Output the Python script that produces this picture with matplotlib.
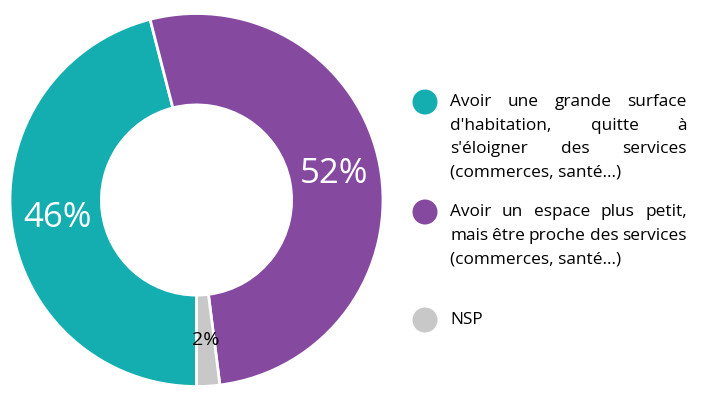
import matplotlib
matplotlib.use("Agg")
import matplotlib.pyplot as plt
from matplotlib.patches import Circle

# Data
labels = ["Avoir une grande surface d'habitation, quitte à s'éloigner des services (commerces, santé...)",
          "Avoir un espace plus petit, mais être proche des services (commerces, santé...)",
          "NSP"]
values = [46, 52, 2]
colors = ["#14adb0", "#8549a0", "#c8c8c8"]
pct_colors = ["white", "white", "black"]
pct_sizes = [25, 25, 14]

# legend text, already broken into lines as in the original
legend_lines = [
    ["Avoir une grande surface", "d'habitation, quitte à", "s'éloigner des services", "(commerces, santé...)"],
    ["Avoir un espace plus petit,", "mais être proche des services", "(commerces, santé...)"],
    ["NSP"],
]

W, H = 705, 399
plt.rcParams['font.family'] = ['Open Sans', 'DejaVu Sans']
fig = plt.figure(figsize=(W / 100, H / 100), dpi=100)

# donut
cx, cy, r = 196.5, 200, 186.5
ax = fig.add_axes([(cx - r) / W, (H - cy - r) / H, 2 * r / W, 2 * r / H])
wedges, _, autotexts = ax.pie(values, colors=colors, startangle=270, counterclock=False,
                              autopct=lambda p: f"{p:.0f}%", pctdistance=0.75,
                              wedgeprops=dict(width=0.49, edgecolor="white", linewidth=2))
for t, c, s in zip(autotexts, pct_colors, pct_sizes):
    t.set_color(c)
    t.set_fontsize(s)
ax.set_xlim(-1, 1)
ax.set_ylim(-1, 1)
ax.axis("off")

# legend: coloured dots + justified text
renderer = fig.canvas.get_renderer()
fs = 12.4
x0, x1 = 450, 687
marker_x = 425
blocks_y = [102, 212, 320]
line_h = 23.5

for block, col, y0 in zip(legend_lines, colors, blocks_y):
    fig.patches.append(Circle((marker_x / 100, (H - y0) / 100), 0.125, transform=fig.dpi_scale_trans,
                              facecolor=col, edgecolor="none", figure=fig))
    for i, line in enumerate(block):
        y = 1 - (y0 + i * line_h) / H
        if i == len(block) - 1:
            fig.text(x0 / W, y, line, fontsize=fs, va="center", ha="left")
            continue
        words = line.split(" ")
        texts = [fig.text(0, y, w, fontsize=fs, va="center", ha="left") for w in words]
        widths = [t.get_window_extent(renderer).width for t in texts]
        gap = (x1 - x0 - sum(widths)) / (len(words) - 1)
        x = x0
        for t, w in zip(texts, widths):
            t.set_x(x / W)
            x += w + gap

fig.savefig("out.png", dpi=100)
